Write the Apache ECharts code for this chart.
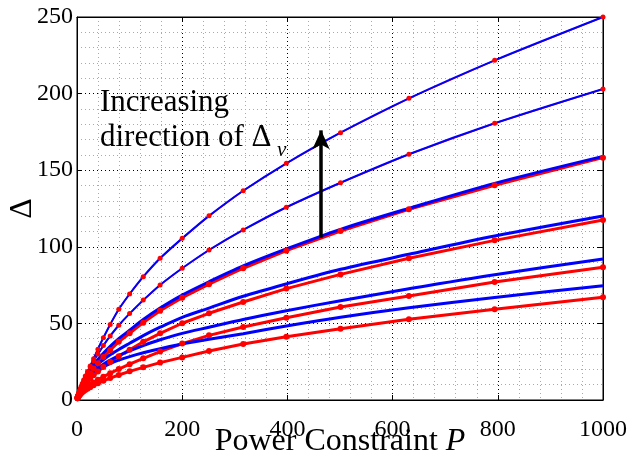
<!DOCTYPE html>
<html>
<head>
<meta charset="utf-8">
<script src="https://cdn.jsdelivr.net/npm/echarts@6/dist/echarts.min.js"></script>
<style>
  html, body { margin: 0; padding: 0; background: #fff; }
  #main { width: 641px; height: 455px; }
</style>
</head>
<body>
<div id="main"></div>
<script>
// power constraint P, sampled at 10^(k/10)
var powerP = [1, 1.26, 1.58, 2, 2.51, 3.16, 3.98, 5.01, 6.31, 7.94, 10, 12.6, 15.8, 20, 25.1, 31.6,
  39.8, 50.1, 63.1, 79.4, 100, 126, 158, 200, 251, 316, 398, 501, 631, 794, 1000];

// red curves (with markers)
var red1 = [1.5, 1.8, 2.2, 2.7, 3.3, 4.0, 4.9, 6.0, 7.3, 8.9, 10.8, 13.0, 15.6, 18.6, 22.2, 27.0,
  33.2, 40.6, 49.3, 59.2, 69.2, 80.5, 92.5, 105.5, 120.2, 136.6, 154.5, 174.5, 196.9, 221.7, 250];
var red2 = [1.3, 1.6, 1.9, 2.3, 2.8, 3.4, 4.2, 5.2, 6.4, 7.9, 9.7, 11.9, 14.6, 17.8, 21.5, 25.5,
  30.0, 35.5, 41.8, 48.8, 56.4, 65.2, 75.1, 86.0, 97.9, 111.0, 125.8, 141.8, 160.4, 180.6, 203];
var red3 = [1.2, 1.5, 1.9, 2.3, 2.8, 3.4, 4.1, 5.0, 6.0, 7.3, 8.8, 10.5, 12.5, 14.8, 17.5, 20.5,
  24.0, 28.0, 32.5, 38.0, 43.5, 50.5, 58.3, 66.8, 75.6, 86.0, 97.5, 110.3, 124.5, 140.1, 158.2];
var red4 = [1.2, 1.5, 1.8, 2.2, 2.7, 3.2, 3.9, 4.6, 5.4, 6.4, 7.5, 8.8, 10.3, 12.0, 13.9, 16.1,
  18.6, 21.5, 24.8, 28.5, 32.8, 38.0, 43.5, 50.1, 56.6, 64.0, 72.7, 82.0, 92.5, 104.2, 117.5];
var red5 = [1.4, 1.6, 1.9, 2.2, 2.5, 2.9, 3.3, 3.8, 4.4, 5.0, 5.8, 6.6, 7.6, 8.7, 10.0, 11.5,
  13.2, 15.2, 17.5, 20.2, 23.4, 27.2, 31.6, 36.8, 42.2, 47.6, 53.7, 60.7, 67.9, 77.0, 86.6];
var red6 = [1.2, 1.4, 1.6, 1.9, 2.2, 2.5, 2.9, 3.3, 3.8, 4.4, 5.0, 5.7, 6.5, 7.4, 8.4, 9.6,
  10.9, 12.5, 14.3, 16.3, 18.7, 21.3, 24.4, 27.8, 32.0, 36.6, 41.3, 46.5, 52.7, 59.2, 67.0];

// blue curves (plain lines)
var blue1 = [1.5, 1.8, 2.2, 2.7, 3.3, 4.0, 4.9, 6.0, 7.3, 8.9, 10.8, 13.0, 15.6, 18.6, 22.2, 27.0,
  33.2, 40.6, 49.3, 59.2, 69.2, 80.5, 92.5, 105.5, 120.2, 136.6, 154.5, 174.5, 196.9, 221.7, 250];
var blue2 = [1.3, 1.6, 1.9, 2.3, 2.8, 3.4, 4.2, 5.2, 6.4, 7.9, 9.7, 11.9, 14.6, 17.8, 21.5, 25.5,
  30.0, 35.5, 41.8, 48.8, 56.4, 65.2, 75.1, 86.0, 97.9, 111.0, 125.8, 141.8, 160.4, 180.6, 203];
var blue3 = [1.3, 1.6, 2.0, 2.5, 3.1, 3.8, 4.7, 5.8, 7.0, 8.5, 10.2, 12.2, 14.5, 17.0, 20.0, 23.0,
  26.5, 30.5, 35.0, 40.0, 45.5, 52.5, 60.0, 68.5, 77.2, 87.5, 98.6, 111.4, 125.1, 141.4, 159.0];
var blue4 = [1.3, 1.6, 2.0, 2.5, 3.1, 3.8, 4.7, 5.7, 6.9, 8.3, 9.9, 11.7, 13.8, 16.0, 18.5, 21.0,
  23.5, 26.3, 29.5, 33.0, 37.0, 42.0, 47.5, 54.0, 60.0, 67.7, 75.8, 85.3, 95.1, 107.0, 120.1];
var blue5 = [1.3, 1.6, 2.0, 2.5, 3.1, 3.8, 4.7, 5.7, 6.8, 8.1, 9.5, 11.1, 12.8, 14.7, 16.7, 18.8,
  21.0, 23.4, 26.0, 28.9, 32.0, 35.5, 39.3, 43.5, 47.5, 52.6, 58.3, 64.8, 72.6, 81.8, 92.0];
var blue6 = [1.3, 1.6, 2.0, 2.5, 3.1, 3.8, 4.7, 5.7, 6.8, 8.0, 9.4, 10.9, 12.5, 14.2, 16.0, 17.8,
  19.7, 21.7, 23.8, 26.0, 28.3, 30.8, 33.5, 36.5, 39.6, 43.3, 48.3, 54.0, 60.2, 66.9, 74.6];

var xTicks = [0, 200, 400, 600, 800, 1000];
var yTicks = [0, 50, 100, 150, 200, 250];

// arrow "Increasing direction of Δv": [P, Δ] from -> to
var arrowFrom = [464, 106];
var arrowTo = [464, 176];

var FONT = '"Liberation Serif", "Times New Roman", serif';

function pairs(ys) {
  return powerP.map(function (p, i) { return [p, ys[i]]; });
}

var chart = echarts.init(document.getElementById('main'));

var series = [];
// red first, blue drawn over it
[red1, red2, red3, red4, red5, red6].forEach(function (ys, i) {
  var top = i < 2;
  series.push({
    type: 'line',
    data: pairs(ys),
    symbol: 'circle',
    symbolSize: top ? 5 : 6,
    lineStyle: { color: '#ff0000', width: top ? 1.5 : 3 },
    itemStyle: { color: '#ff0000' },
    silent: true
  });
});
[blue1, blue2, blue3, blue4, blue5, blue6].forEach(function (ys, i) {
  var top = i < 2;
  series.push({
    type: 'line',
    data: pairs(ys),
    symbol: 'none',
    smooth: 0.3,
    lineStyle: { color: '#0000ff', width: top ? 2 : 3 },
    silent: true
  });
});
// the arrow
series.push({
  type: 'line',
  data: [],
  markLine: {
    silent: true,
    symbol: ['none', 'arrow'],
    symbolSize: [13, 19],
    label: { show: false },
    lineStyle: { color: '#000', width: 3.5, type: 'solid' },
    data: [[{ coord: arrowFrom }, { coord: arrowTo }]]
  }
});

var axisBase = {
  type: 'value',
  axisLine: { show: true, onZero: false, lineStyle: { color: '#000', width: 1 } },
  axisTick: { show: true, inside: true, length: 5, lineStyle: { color: '#000' } }
};

chart.setOption({
  animation: false,
  grid: {
    left: 77, right: 38, top: 17, bottom: 55, containLabel: false, outerBoundsMode: 'none',
    show: true, borderColor: '#000', borderWidth: 1
  },
  xAxis: [
    Object.assign({}, axisBase, {
      min: xTicks[0], max: xTicks[xTicks.length - 1], interval: xTicks[1] - xTicks[0],
      name: '{a|Power Constraint }{b|P}',
      nameLocation: 'middle',
      nameGap: 26,
      nameMoveOverlap: false,
      nameTextStyle: {
        rich: {
          a: { fontFamily: FONT, fontSize: 32, color: '#000' },
          b: { fontFamily: FONT, fontSize: 32, fontStyle: 'italic', color: '#000' }
        }
      },
      axisLabel: { fontFamily: FONT, fontSize: 24, color: '#000', margin: 14,
        padding: [4, 0, 0, 0],
        formatter: function (v) { return String(v); } },
      splitLine: { show: true, lineStyle: { color: '#000', type: [1, 3], width: 1 } },
      minorTick: { show: true, splitNumber: 5, length: 0 },
      minorSplitLine: { show: true, lineStyle: { color: '#aaa', type: [1, 3], width: 1 } }
    }),
    Object.assign({}, axisBase, {
      position: 'top',
      min: xTicks[0], max: xTicks[xTicks.length - 1], interval: xTicks[1] - xTicks[0],
      axisLabel: { show: false },
      splitLine: { show: false }
    })
  ],
  yAxis: [
    Object.assign({}, axisBase, {
      min: yTicks[0], max: yTicks[yTicks.length - 1], interval: yTicks[1] - yTicks[0],
      name: 'Δ',
      nameLocation: 'middle',
      nameGap: 38,
      nameMoveOverlap: false,
      nameTextStyle: { fontFamily: FONT, fontSize: 32, color: '#000' },
      axisLabel: { fontFamily: FONT, fontSize: 24, color: '#000', margin: 4,
        formatter: function (v) { return String(v); } },
      splitLine: { show: true, lineStyle: { color: '#000', type: [1, 3], width: 1 } },
      minorTick: { show: true, splitNumber: 5, length: 0 },
      minorSplitLine: { show: true, lineStyle: { color: '#aaa', type: [1, 3], width: 1 } }
    }),
    Object.assign({}, axisBase, {
      position: 'right',
      min: yTicks[0], max: yTicks[yTicks.length - 1], interval: yTicks[1] - yTicks[0],
      axisLabel: { show: false },
      splitLine: { show: false }
    })
  ],
  graphic: [
    { type: 'text', left: 100, top: 87, z: 100,
      style: { text: 'Increasing', font: '31px ' + FONT, fill: '#000' } },
    { type: 'text', left: 100, top: 122, z: 100,
      style: { text: 'direction of Δ', font: '31px ' + FONT, fill: '#000' } },
    { type: 'text', left: 277, top: 140, z: 100,
      style: { text: 'v', font: 'italic 21px ' + FONT, fill: '#000' } }
  ],
  series: series
});
</script>
</body>
</html>
